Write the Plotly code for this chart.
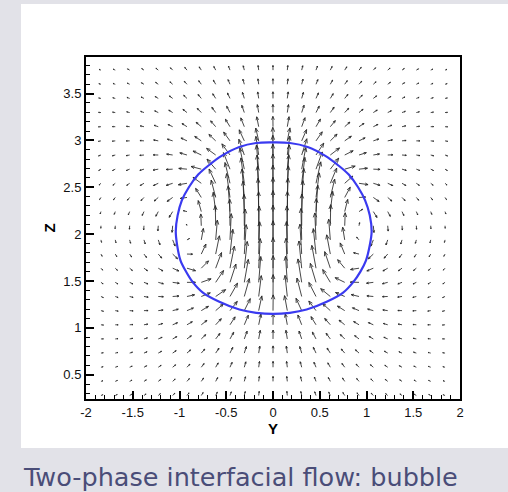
import numpy as np
import plotly.graph_objects as go

# ---- sampling grid of the vector plot (Y columns, Z rows) ----
GRID_Y = [-1.84, -1.687, -1.533, -1.38, -1.227, -1.073, -0.92, -0.767, -0.613,
          -0.46, -0.307, -0.153, 0.0, 0.153, 0.307, 0.46, 0.613, 0.767, 0.92,
          1.073, 1.227, 1.38, 1.533, 1.687, 1.84]
GRID_Z = [3.75, 3.599, 3.448, 3.297, 3.146, 2.995, 2.844, 2.693, 2.542, 2.391,
          2.24, 2.089, 1.938, 1.787, 1.636, 1.485, 1.334, 1.183, 1.032, 0.881,
          0.73, 0.579, 0.428, 0.277]

# ---- bubble interface (Y, Z), traced counter-clockwise from the top ----
INTERFACE_Y = [0.0, -0.18, -0.36, -0.55, -0.68, -0.80, -0.90, -0.975, -1.02,
               -1.04, -1.025, -0.99, -0.93, -0.86, -0.75, -0.58, -0.36, -0.18,
               0.0, 0.18, 0.36, 0.58, 0.75, 0.86, 0.935, 0.995, 1.035, 1.055,
               1.035, 0.985, 0.91, 0.81, 0.69, 0.56, 0.37, 0.18, 0.0]
INTERFACE_Z = [2.978, 2.972, 2.93, 2.835, 2.74, 2.635, 2.50, 2.36, 2.20,
               2.03, 1.88, 1.72, 1.60, 1.49, 1.375, 1.28, 1.195, 1.16,
               1.148, 1.16, 1.195, 1.28, 1.375, 1.49, 1.60, 1.72, 1.88, 2.03,
               2.20, 2.36, 2.50, 2.635, 2.74, 2.835, 2.93, 2.972, 2.978]

# ---- flow parameters of the rising bubble ----
BUBBLE_CENTER = (0.01, 2.06)
BUBBLE_AXES = (1.045, 0.915)
RISE_SPEED = 0.15
FAR_DECAY = 1.8

# ---- axis ticks ----
X_TICKS = [-2, -1.5, -1, -0.5, 0, 0.5, 1, 1.5, 2]
X_LABELS = ["-2", "-1.5", "-1", "-0.5", "0", "0.5", "1", "1.5", "2"]
Z_TICKS = [0.5, 1, 1.5, 2, 2.5, 3, 3.5]
Z_LABELS = ["0.5", "1", "1.5", "2", "2.5", "3", "3.5"]

CAPTION = "Two-phase interfacial flow: bubble"


def velocity(y, z):
    """Internal vortex inside the bubble, dipole-like decay outside."""
    xi = (y - BUBBLE_CENTER[0]) / BUBBLE_AXES[0]
    ze = (z - BUBBLE_CENTER[1]) / BUBBLE_AXES[1]
    r2 = xi * xi + ze * ze
    U = RISE_SPEED
    if r2 < 1.0:
        uy = 1.5 * U * xi * ze
        uz = U + 1.5 * U * (1.0 - 2.0 * xi * xi - ze * ze)
    else:
        rp = r2 ** (FAR_DECAY / 2.0)
        uy = 1.5 * U * xi * ze / (rp * r2)
        uz = 0.5 * U * (3.0 * ze * ze / r2 - 1.0) / rp
    return uy, uz


ax_pts, az_pts = [], []
ang = np.radians(22)
ca, sa = np.cos(ang), np.sin(ang)
for zc in GRID_Z:
    for yc in GRID_Y:
        uy, uz = velocity(yc, zc)
        L = np.hypot(uy, uz)
        if L < 1e-9:
            continue
        y1, z1 = yc + uy, zc + uz
        ux, uzn = uy / L, uz / L
        head = min(0.35 * L, 0.05)
        # two barbs of the arrow head
        b1 = (y1 - head * (ux * ca - uzn * sa), z1 - head * (uzn * ca + ux * sa))
        b2 = (y1 - head * (ux * ca + uzn * sa), z1 - head * (uzn * ca - ux * sa))
        ax_pts += [yc, y1, None, b1[0], y1, b2[0], None]
        az_pts += [zc, z1, None, b1[1], z1, b2[1], None]

fig = go.Figure()
fig.add_trace(go.Scatter(
    x=ax_pts, y=az_pts, mode="lines",
    line=dict(color="#262626", width=0.85),
    hoverinfo="skip", showlegend=False,
))
fig.add_trace(go.Scatter(
    x=INTERFACE_Y, y=INTERFACE_Z, mode="lines",
    line=dict(color="#3a3af0", width=2.2, shape="spline", smoothing=1.0),
    hoverinfo="skip", showlegend=False,
))

L_M, R_M, T_M, B_M = 86, 48, 57, 93
W, H = 508, 492
pw, ph = W - L_M - R_M, H - T_M - B_M


def px_x(p):
    return (p - L_M) / pw


def px_y(p):
    return (H - B_M - p) / ph


# white panel behind the chart
fig.add_shape(type="rect", xref="paper", yref="paper",
              x0=px_x(21), x1=px_x(520), y0=px_y(448), y1=px_y(4),
              fillcolor="white", line=dict(width=0), layer="below")

fig.add_annotation(
    text=CAPTION, xref="paper", yref="paper",
    x=px_x(21), y=px_y(477), xanchor="left", yanchor="middle",
    showarrow=False,
    font=dict(family="DejaVu Sans", size=25.5, color="#4a4d78"),
)

axis_common = dict(
    showgrid=False, zeroline=False,
    showline=True, linewidth=2, linecolor="black", mirror=True,
    ticks="inside", ticklen=8, tickwidth=2, tickcolor="black",
    tickfont=dict(family="Liberation Sans, Arial", size=13, color="#111"),
)

fig.update_layout(
    width=W, height=H,
    margin=dict(l=L_M, r=R_M, t=T_M, b=B_M),
    paper_bgcolor="#e2e2e8",
    plot_bgcolor="white",
    xaxis=dict(
        range=[-2, 2], tickmode="array", tickvals=X_TICKS, ticktext=X_LABELS,
        minor=dict(tickmode="linear", tick0=0, dtick=0.1, ticks="inside",
                   ticklen=4, tickwidth=1, tickcolor="black"),
        title=dict(text="<b>Y</b>", standoff=0,
                   font=dict(family="Liberation Sans, Arial", size=15, color="black")),
        **axis_common,
    ),
    yaxis=dict(
        range=[0.24, 3.89], tickmode="array", tickvals=Z_TICKS, ticktext=Z_LABELS,
        minor=dict(tickmode="linear", tick0=0, dtick=0.1, ticks="inside",
                   ticklen=4, tickwidth=1, tickcolor="black"),
        title=dict(text="<b>Z</b>", standoff=4,
                   font=dict(family="Liberation Sans, Arial", size=15, color="black")),
        **axis_common,
    ),
)

fig.write_html("out.html")
